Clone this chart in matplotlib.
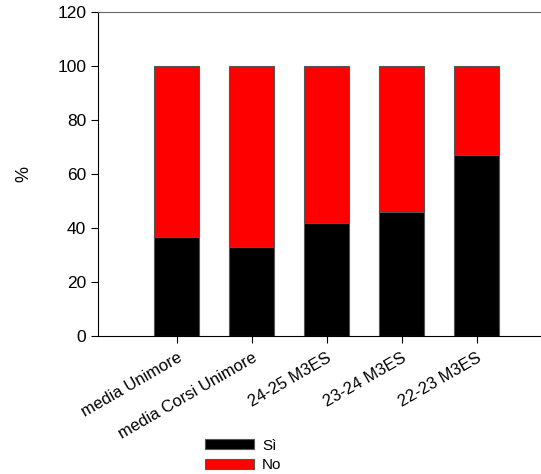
import matplotlib.pyplot as plt

plt.rcParams['font.family'] = ['Liberation Sans', 'DejaVu Sans']

categories = ['media Unimore', 'media Corsi Unimore', '24-25 M3ES', '23-24 M3ES', '22-23 M3ES']
si_values = [36.8, 32.8, 42.0, 45.8, 66.9]
no_values = [100 - v for v in si_values]

fig = plt.figure(figsize=(5.41, 4.74), dpi=100)
ax = fig.add_axes([98 / 541, 138 / 474, 1 - 98 / 541, 324 / 474])

x = range(len(categories))
ax.bar(x, si_values, width=0.6, color='black', edgecolor='#555555', linewidth=0.8, label='Sì')
ax.bar(x, no_values, width=0.6, bottom=si_values, color='#ff0000', edgecolor='#555555', linewidth=0.8, label='No')

ax.set_xlim(-1.05, 4.86)
ax.set_ylim(0, 120)
ax.set_yticks(range(0, 121, 20))
ax.set_xticks(list(x))
ax.set_xticklabels(categories, rotation=30, ha='right', rotation_mode='anchor', fontsize=12)
ax.tick_params(axis='y', labelsize=12.5, direction='out', length=5)
ax.tick_params(axis='x', direction='out', length=5, pad=5)
ax.spines['right'].set_visible(False)
ax.spines['top'].set_color('#666666')
ax.set_ylabel('%', fontsize=13, labelpad=18)

fig.legend(loc='upper left', bbox_to_anchor=(197 / 541, 1 - 431 / 474), frameon=False, borderpad=0,
           fontsize=11, handlelength=3.2, handleheight=0.65, labelspacing=0.37, handletextpad=0.55)

fig.savefig('out.png', dpi=100)
